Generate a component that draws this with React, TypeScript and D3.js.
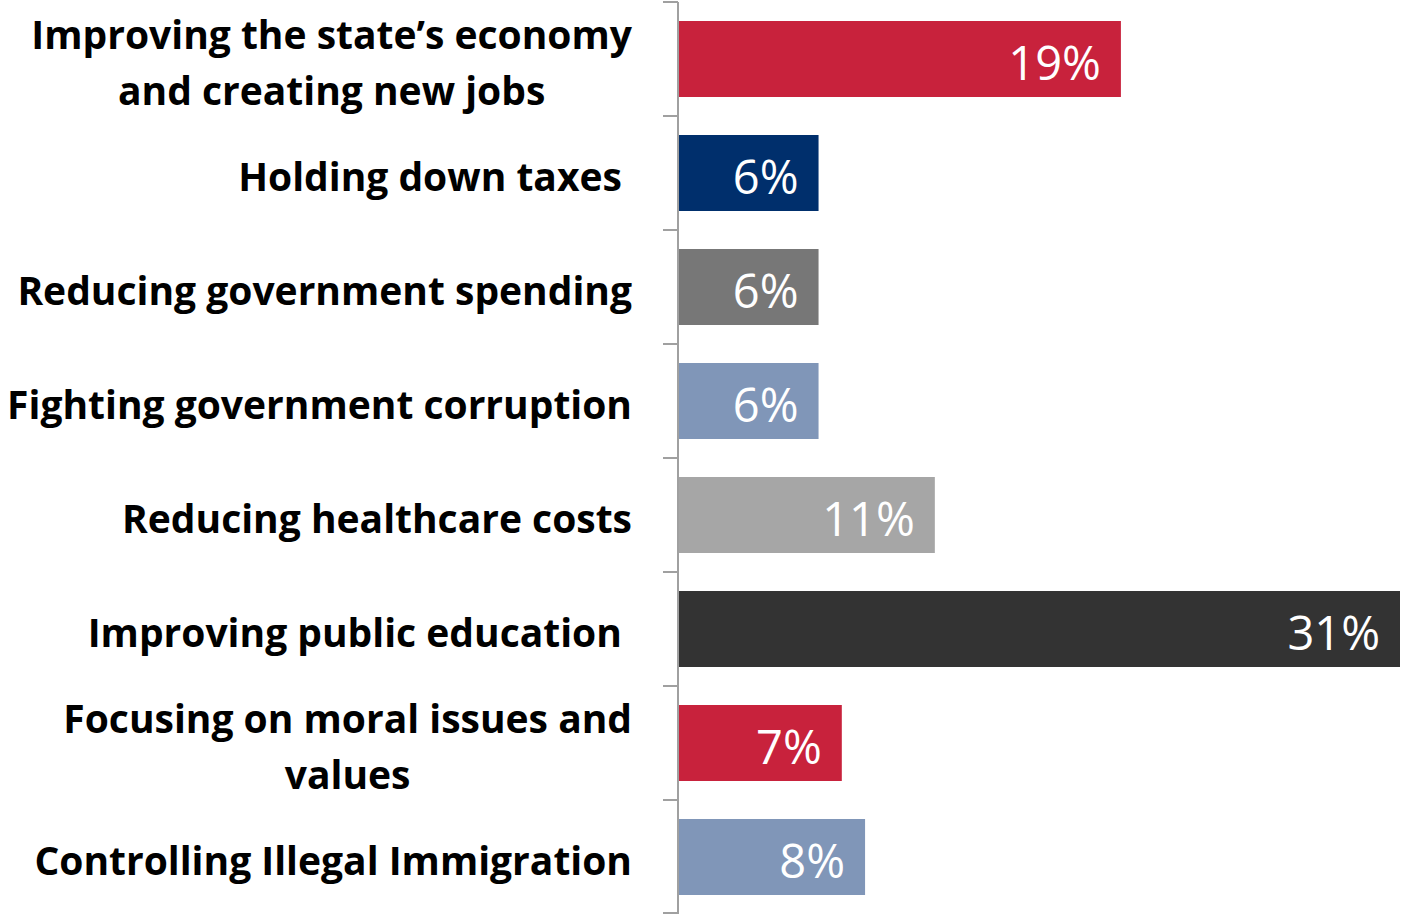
import React from "react";
import * as d3 from "d3";

const categories: string[][] = [
  ["Improving the state\u2019s economy", "and creating new jobs"],
  ["Holding down taxes\u00a0"],
  ["Reducing government spending"],
  ["Fighting government corruption"],
  ["Reducing healthcare costs"],
  ["Improving public education\u00a0"],
  ["Focusing on moral issues and", "values"],
  ["Controlling Illegal Immigration"],
];
const values: number[] = [19, 6, 6, 6, 11, 31, 7, 8];
const colors: string[] = ["#C8223C", "#002F6C", "#777777", "#8096B8", "#A6A6A6", "#333333", "#C8223C", "#8096B8"];

const W = 1403;
const H = 914;
const axisX = 678;
const top = 2;
const bottom = 914;
const right = 1400;
const labelRight = 632;
const labelFont = "'Open Sans', Lato, sans-serif";
const labelSize = 39;

function measure(text: string): number {
  const c = document.createElement("canvas").getContext("2d")!;
  c.font = `700 ${labelSize}px ${labelFont}`;
  return c.measureText(text).width;
}

export default function App() {
  const ids = categories.map((_, i) => String(i));
  const y = d3.scaleBand<string>().domain(ids).range([top, bottom]).paddingInner(1 / 3).paddingOuter(1 / 6);
  const x = d3.scaleLinear().domain([0, 31]).range([axisX + 1, right]);
  const step = y.step();
  const boundaries = d3.range(categories.length + 1).map((i) => top + i * step);
  return (
    <div style={{ position: "absolute", left: 0, top: 0 }}>
      <svg width={W} height={H} style={{ display: "block" }}>
        <rect width={W} height={H} fill="#fff" />
        {values.map((v, i) => {
          const by = y(String(i))!;
          const bh = y.bandwidth();
          return (
            <g key={i}>
              <rect x={x(0)} y={by} width={x(v) - x(0)} height={bh} fill={colors[i]} />
              <text
                x={x(v) - 20}
                y={by + bh / 2 + 4}
                dy="0.36em"
                textAnchor="end"
                fill="#fff"
                fontFamily={labelFont}
                fontSize={47}
              >
                {v}%
              </text>
            </g>
          );
        })}
        <line x1={axisX} x2={axisX} y1={top} y2={bottom} stroke="#A0A0A0" strokeWidth={2} />
        {boundaries.map((b, i) => (
          <line key={i} x1={axisX - 15} x2={axisX} y1={Math.min(b, bottom - 1)} y2={Math.min(b, bottom - 1)} stroke="#A0A0A0" strokeWidth={2} />
        ))}
        {categories.map((lines, i) => {
          const cy = y(String(i))! + y.bandwidth() / 2 + 4;
          const lh = 56;
          const y0 = cy - ((lines.length - 1) * lh) / 2;
          const multi = lines.length > 1;
          const maxW = multi ? Math.max(...lines.map(measure)) : 0;
          return (
            <text
              key={i}
              textAnchor={multi ? "middle" : "end"}
              fontFamily={labelFont}
              fontWeight={700}
              fontSize={labelSize}
              fill="#000"
            >
              {lines.map((l, j) => (
                <tspan key={j} x={multi ? labelRight - maxW / 2 : labelRight} y={y0 + j * lh} dy="0.36em" style={{ whiteSpace: "pre" }}>
                  {l}
                </tspan>
              ))}
            </text>
          );
        })}
      </svg>
    </div>
  );
}
